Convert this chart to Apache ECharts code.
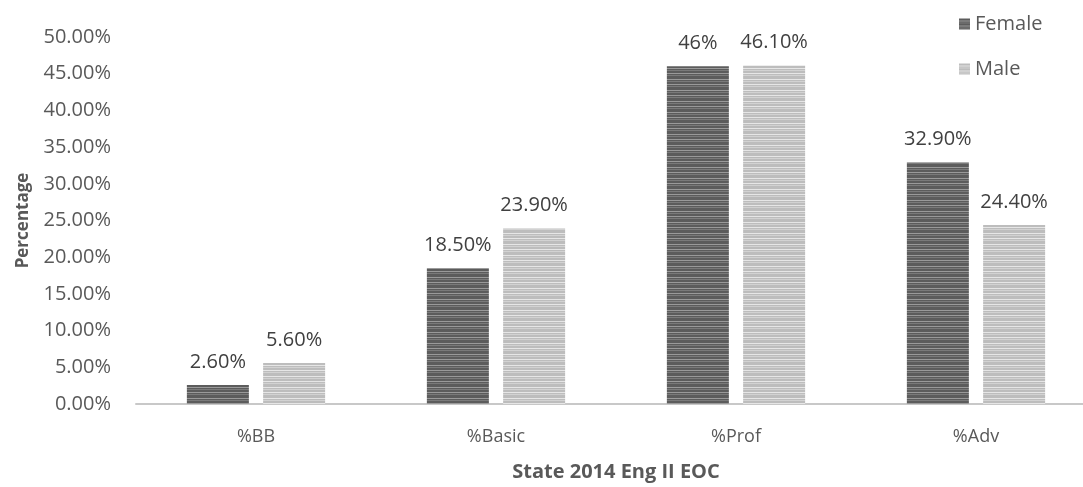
<!DOCTYPE html>
<html>
<head>
<meta charset="utf-8">
<style>
  html, body { margin: 0; padding: 0; background: #fff; overflow: hidden; }
  /* plot runs slightly past the right edge of the page */
  #chart { width: 1096px; height: 487px; }
</style>
<script src="https://cdn.jsdelivr.net/npm/echarts@6/dist/echarts.min.js"></script>
</head>
<body>
<div id="chart"></div>
<script>
// Score bands and percentages by gender
const categories = ['%BB', '%Basic', '%Prof', '%Adv'];
const femaleValues = [2.6, 18.5, 46, 32.9];
const maleValues = [5.6, 23.9, 46.1, 24.4];
const yTicks = [0, 5, 10, 15, 20, 25, 30, 35, 40, 45, 50];

// Horizontal striped fill used for the bars and legend swatches
function stripes(base, light, mid) {
  const c = document.createElement('canvas');
  c.width = 4; c.height = 11;
  const g = c.getContext('2d');
  g.fillStyle = base; g.fillRect(0, 0, 4, 11);
  g.fillStyle = light; g.fillRect(0, 2, 4, 1); g.fillRect(0, 7, 4, 1);
  g.fillStyle = mid; g.fillRect(0, 4, 4, 1); g.fillRect(0, 9, 4, 1);
  return { image: c, repeat: 'repeat' };
}

const femaleFill = stripes('#5c5c5c', '#9a9a9a', '#7a7a7a');
const maleFill = stripes('#bdbdbd', '#e6e6e6', '#d2d2d2');

const fmt = v => (Number.isInteger(v) ? v + '%' : v.toFixed(2) + '%');
const font = '"Open Sans", "Noto Sans", sans-serif';

const chart = echarts.init(document.getElementById('chart'));
chart.setOption({
  animation: false,
  textStyle: { fontFamily: font },
  grid: { left: 136, top: 37, right: 0, height: 371, containLabel: false },
  legend: {
    orient: 'vertical',
    left: 954,
    top: 9,
    itemWidth: 11,
    itemHeight: 11,
    itemGap: 25,
    icon: 'rect',
    textStyle: { color: '#595959', fontSize: 20, fontFamily: font },
    data: ['Female', 'Male']
  },
  xAxis: {
    type: 'category',
    data: categories,
    name: 'State 2014 Eng II EOC',
    nameLocation: 'middle',
    nameGap: 58,
    nameTextStyle: { color: '#595959', fontWeight: 'bold', fontSize: 20 },
    axisLine: { lineStyle: { color: '#c8c8c8', width: 2 } },
    axisTick: { show: false },
    axisLabel: { color: '#595959', fontSize: 18, margin: 24 }
  },
  yAxis: {
    type: 'value',
    min: yTicks[0],
    max: yTicks[yTicks.length - 1],
    interval: yTicks[1] - yTicks[0],
    name: 'Percentage',
    nameLocation: 'middle',
    nameGap: 104,
    nameTextStyle: { color: '#595959', fontWeight: 'bold', fontSize: 17 },
    axisLine: { show: false },
    axisTick: { show: false },
    splitLine: { show: false },
    axisLabel: { color: '#595959', fontSize: 20, margin: 25, formatter: v => v.toFixed(2) + '%' }
  },
  series: [
    {
      name: 'Female',
      type: 'bar',
      data: femaleValues,
      barWidth: 62,
      barGap: '23%',
      itemStyle: { color: femaleFill },
      label: { show: true, position: 'top', distance: 13, color: '#404040', fontSize: 20, formatter: p => fmt(p.value) }
    },
    {
      name: 'Male',
      type: 'bar',
      data: maleValues,
      barWidth: 62,
      barGap: '23%',
      itemStyle: { color: maleFill },
      label: { show: true, position: 'top', distance: 13, color: '#404040', fontSize: 20, formatter: p => fmt(p.value) }
    }
  ]
});
</script>
</body>
</html>
